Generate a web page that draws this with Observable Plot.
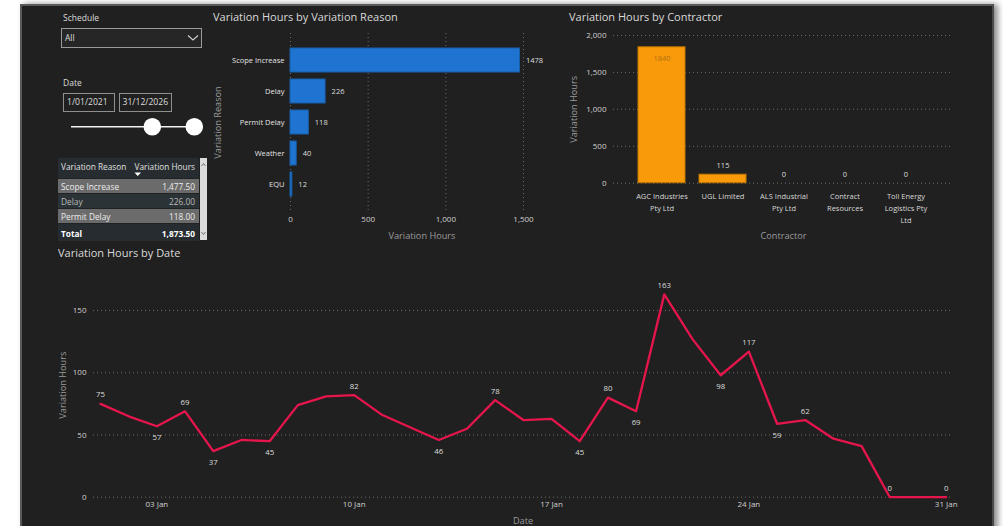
<!DOCTYPE html>
<html>
<head>
<meta charset="utf-8">
<script src="https://cdn.jsdelivr.net/npm/d3@7"></script>
<script src="https://cdn.jsdelivr.net/npm/@observablehq/plot@0.6"></script>
<style>
html,body{margin:0;padding:0;background:#ffffff;}
body{width:1003px;height:526px;overflow:hidden;position:relative;font-family:"Open Sans",sans-serif;}
#panel{position:absolute;left:20px;top:4px;width:970px;height:540px;background:#202020;border-top:2px solid #5a5a5a;border-left:2px solid #5a5a5a;border-right:2px solid #4a4a4a;box-shadow:4px 0 6px rgba(0,0,0,0.45);}
.a{position:absolute;white-space:nowrap;line-height:1;}
.title{font-size:11px;color:#d9d9d9;}
.slabel{font-size:8.5px;color:#dcdcdc;}
.box{position:absolute;box-sizing:border-box;border:1px solid #8f8f8f;}
.chart{position:absolute;}
.chart svg{display:block;overflow:visible;}
#tbl{position:absolute;left:58px;top:158px;width:149px;height:84px;font-size:8.3px;}
.row{position:absolute;left:0;width:141px;box-sizing:border-box;}
.row .c1{position:absolute;left:3px;top:50%;transform:translateY(-50%);white-space:nowrap;}
.row .c2{position:absolute;right:4px;top:50%;transform:translateY(-50%);white-space:nowrap;}
</style>
</head>
<body>
<div id="panel"></div>

<!-- slicers -->
<div class="a slabel" style="left:63px;top:14px;">Schedule</div>
<div class="box" style="left:61px;top:28px;width:141px;height:20px;background:#262626;border-color:#9a9a9a;"></div>
<div class="a slabel" style="left:65px;top:33.5px;">All</div>
<svg style="position:absolute;left:187px;top:34px;" width="12" height="8"><polyline points="1,1.5 6,6 11,1.5" fill="none" stroke="#d0d0d0" stroke-width="1.1"/></svg>
<div class="a slabel" style="left:63px;top:78.5px;">Date</div>
<div class="box" style="left:63px;top:93px;width:52px;height:19px;"></div>
<div class="box" style="left:119px;top:93px;width:53px;height:19px;"></div>
<div class="a slabel" style="left:67px;top:98px;font-size:8.6px;">1/01/2021</div>
<div class="a slabel" style="left:122.5px;top:98px;font-size:8.6px;">31/12/2026</div>
<svg style="position:absolute;left:60px;top:112px;" width="150" height="30">
  <line x1="11" y1="14.7" x2="134" y2="14.7" stroke="#f2f2f2" stroke-width="1.6"/>
  <circle cx="92.3" cy="14.7" r="8.8" fill="#ffffff"/>
  <circle cx="134.3" cy="14.7" r="8.8" fill="#ffffff"/>
</svg>

<div id="tbl"></div>

<!-- titles -->
<div class="a title" style="left:213px;top:10.9px;">Variation Hours by Variation Reason</div>
<div class="a title" style="left:569px;top:10.9px;">Variation Hours by Contractor</div>
<div class="a title" style="left:58px;top:247px;">Variation Hours by Date</div>

<div id="c1" class="chart" style="left:210px;top:20px;"></div>
<div id="c2" class="chart" style="left:555px;top:20px;"></div>
<div id="c3" class="chart" style="left:40px;top:260px;"></div>

<script>
// ---------- data ----------
const reasons = ["Scope Increase", "Delay", "Permit Delay", "Weather", "EQU"];
const reasonHours = [1477.5, 226, 118, 40, 12];

const contractors = ["AGC Industries Pty Ltd", "UGL Limited", "ALS Industrial Pty Ltd", "Contract Resources", "Toll Energy Logistics Pty Ltd"];
const contractorTickLabels = ["AGC Industries\nPty Ltd", "UGL Limited", "ALS Industrial\nPty Ltd", "Contract\nResources", "Toll Energy\nLogistics Pty\nLtd"];
const contractorHours = [1840, 115, 0, 0, 0];

const dayDates = ["2021-01-01","2021-01-02","2021-01-03","2021-01-04","2021-01-05","2021-01-06","2021-01-07","2021-01-08","2021-01-09","2021-01-10",
  "2021-01-11","2021-01-12","2021-01-13","2021-01-14","2021-01-15","2021-01-16","2021-01-17","2021-01-18","2021-01-19","2021-01-20",
  "2021-01-21","2021-01-22","2021-01-23","2021-01-24","2021-01-25","2021-01-26","2021-01-27","2021-01-28","2021-01-29","2021-01-30","2021-01-31"];
const dayHours = [75, 65, 57, 69, 37, 46, 45, 74, 81, 82, 66, 56, 46, 55, 78, 62, 63, 45, 80, 69, 163, 127, 98, 117, 59, 62, 47, 41, 0, 0, 0];
const labelledDates = ["2021-01-01","2021-01-03","2021-01-04","2021-01-05","2021-01-07","2021-01-10","2021-01-13","2021-01-15","2021-01-18",
  "2021-01-19","2021-01-20","2021-01-21","2021-01-23","2021-01-24","2021-01-25","2021-01-26","2021-01-29","2021-01-31"];
const dateTicks = ["2021-01-03","2021-01-10","2021-01-17","2021-01-24","2021-01-31"];

const reasonTicks = [0, 500, 1000, 1500];
const contractorTicks = [0, 500, 1000, 1500, 2000];
const dateValueTicks = [0, 50, 100, 150];

const tableHeaders = ["Variation Reason", "Variation Hours"];
const tableRows = ["Scope Increase", "Delay", "Permit Delay"];
const tableTotalLabel = "Total";

// ---------- styles ----------
const FONT = "Open Sans";
const tickColor = "#cfcfcf";
const titleColor = "#9a9a9a";
const gridStyle = {stroke: "#6a6a6a", strokeOpacity: 1, strokeDasharray: "1,3"};
const xTitle = {frameAnchor: "bottom", lineAnchor: "middle", textAnchor: "middle", fill: titleColor, fontSize: 9.2};
const yTitle = {frameAnchor: "left", lineAnchor: "middle", textAnchor: "middle", rotate: -90, fill: titleColor, fontSize: 9.2};

// ---------- table ----------
{
  const tbl = document.getElementById("tbl");
  const fmt = d3.format(",.2f");
  const rowsSpec = [
    {cls: "hdr", top: 0, h: 20, bg: "#262c2f", c1: tableHeaders[0], c2: tableHeaders[1], color: "#e0e0e0"},
    ...tableRows.map((r, i) => ({top: 20 + i * 15, h: 15, bg: i % 2 === 0 ? "#6b6b6b" : "#2c3336",
      c1: r, c2: fmt(reasonHours[reasons.indexOf(r)]), color: i % 2 === 0 ? "#ececec" : "#b9b9b9"})),
    {top: 65, h: 18, bg: "#262c2f", c1: tableTotalLabel, c2: fmt(d3.sum(reasonHours)), color: "#ffffff", bold: true}
  ];
  for (const r of rowsSpec) {
    const d = document.createElement("div");
    d.className = "row";
    d.style.top = r.top + "px"; d.style.height = r.h + "px"; d.style.background = r.bg; d.style.color = r.color;
    if (r.top > 0) d.style.borderTop = "1px solid #1f2325";
    if (r.bold) d.style.fontWeight = "700";
    const s1 = document.createElement("span"); s1.className = "c1"; s1.textContent = r.c1;
    const s2 = document.createElement("span"); s2.className = "c2"; s2.textContent = r.c2;
    if (r.cls === "hdr") { s1.style.top = "8px"; s2.style.top = "8px"; }
    d.append(s1, s2);
    tbl.append(d);
  }
  const arrow = document.createElementNS("http://www.w3.org/2000/svg", "svg");
  arrow.setAttribute("width", "8"); arrow.setAttribute("height", "5");
  arrow.style.position = "absolute"; arrow.style.left = "76px"; arrow.style.top = "13.5px";
  arrow.innerHTML = '<polygon points="0.5,0.5 7,0.5 3.75,4" fill="#ffffff"/>';
  tbl.append(arrow);
  const sb = document.createElement("div");
  sb.style.cssText = "position:absolute;left:141.5px;top:0;width:7px;height:82px;background:#dcdcdc;";
  sb.innerHTML = '<svg width="7" height="82" style="position:absolute;left:0;top:0"><polyline points="1.5,8 3.5,5.5 5.5,8" fill="none" stroke="#555" stroke-width="0.8"/><polyline points="1.5,74 3.5,76.5 5.5,74" fill="none" stroke="#555" stroke-width="0.8"/></svg>';
  tbl.append(sb);
}

// ---------- chart 1: by reason ----------
{
  const data = reasons.map((r, i) => ({reason: r, hours: reasonHours[i]}));
  const chart = Plot.plot({
    width: 345, height: 230,
    marginLeft: 80, marginRight: 32, marginTop: 13, marginBottom: 39,
    style: {background: "transparent", fontFamily: FONT, overflow: "visible"},
    x: {domain: [0, 1500]},
    y: {domain: reasons, paddingInner: 0.22, paddingOuter: 0.41},
    marks: [
      Plot.gridX(reasonTicks, gridStyle),
      Plot.axisX(reasonTicks, {tickSize: 0, tickPadding: 5, tickFormat: d3.format(","), fontSize: 8, color: tickColor, label: null}),
      Plot.axisY({tickSize: 0, tickPadding: 6, fontSize: 7.5, color: "#e2e2e2", label: null}),
      Plot.barX(data, {x: "hours", y: "reason", fill: "#1f74d1", stroke: "#185ea9", strokeWidth: 1}),
      Plot.text(data, {x: "hours", y: "reason", text: d => d3.format(".0f")(d.hours), textAnchor: "start", dx: 6, fill: "#dedede", fontSize: 7.5}),
      Plot.text(["Variation Hours"], {...xTitle, text: d => d, dy: 25, dx: 15}),
      Plot.text(["Variation Reason"], {...yTitle, text: d => d, dx: -72})
    ]
  });
  document.getElementById("c1").append(chart);
}

// ---------- chart 2: by contractor ----------
{
  const data = contractors.map((c, i) => ({contractor: c, hours: contractorHours[i]}));
  const yMax = d3.max(contractorTicks);
  const inside = data.filter(d => d.hours / yMax > 0.9);
  const outside = data.filter(d => d.hours / yMax <= 0.9);
  const chart = Plot.plot({
    width: 410, height: 230,
    marginLeft: 58, marginRight: 12, marginTop: 15, marginBottom: 67.3,
    style: {background: "transparent", fontFamily: FONT, overflow: "visible"},
    x: {domain: contractors, paddingInner: 0.23, paddingOuter: 0.388},
    y: {domain: [0, yMax]},
    marks: [
      Plot.gridY(contractorTicks, gridStyle),
      Plot.axisY(contractorTicks, {tickSize: 0, tickPadding: 7, tickFormat: d3.format(","), fontSize: 8, color: tickColor, label: null}),
      Plot.axisX({tickSize: 0, tickPadding: 7.5, tickFormat: d => contractorTickLabels[contractors.indexOf(d)], fontSize: 7.5, lineHeight: 1.6, color: "#d8d8d8", label: null}),
      Plot.barY(data, {x: "contractor", y: "hours", fill: "#f99a0b", stroke: "#c47700", strokeWidth: 1}),
      Plot.text(inside, {x: "contractor", y: "hours", text: d => d3.format(".0f")(d.hours), dy: 11, fill: "#b0700f", fontSize: 7.5}),
      Plot.text(outside, {x: "contractor", y: "hours", text: d => d3.format(".0f")(d.hours), dy: -9, fill: "#dedede", fontSize: 7.5}),
      Plot.text(["Contractor"], {...xTitle, text: d => d, dy: 52.6}),
      Plot.text(["Variation Hours"], {...yTitle, text: d => d, dx: -39})
    ]
  });
  document.getElementById("c2").append(chart);
}

// ---------- chart 3: by date ----------
{
  const data = dayDates.map((d, i) => ({date: new Date(d), value: dayHours[i]}));
  const labels = data.map((r, i) => ({...r, key: dayDates[i],
      below: r.value > 0 && i > 0 && r.value < data[i - 1].value && (i === data.length - 1 || r.value <= data[i + 1].value)}))
    .filter(r => labelledDates.includes(r.key));
  const chart = Plot.plot({
    width: 925, height: 266,
    marginLeft: 53, marginRight: 13, marginTop: 12.7, marginBottom: 29.3,
    style: {background: "transparent", fontFamily: FONT, overflow: "visible"},
    x: {type: "utc", domain: [data[0].date, data[data.length - 1].date], insetLeft: 7, insetRight: 6.3},
    y: {domain: [0, 180]},
    marks: [
      Plot.gridY(dateValueTicks, gridStyle),
      Plot.axisY(dateValueTicks, {tickSize: 0, tickPadding: 7, fontSize: 8, color: tickColor, label: null}),
      Plot.axisX(dateTicks.map(d => new Date(d)), {tickSize: 0, tickPadding: 4, tickFormat: d3.utcFormat("%d %b"), fontSize: 8, color: tickColor, label: null}),
      Plot.lineY(data, {x: "date", y: "value", stroke: "#e6154c", strokeWidth: 2.3}),
      Plot.text(labels.filter(d => !d.below), {x: "date", y: "value", text: d => String(d.value), dy: -9, fill: "#dedede", fontSize: 7.8}),
      Plot.text(labels.filter(d => d.below), {x: "date", y: "value", text: d => String(d.value), dy: 11.3, fill: "#dedede", fontSize: 7.8}),
      Plot.text(["Date"], {...xTitle, text: d => d, dy: 24}),
      Plot.text(["Variation Hours"], {...yTitle, text: d => d, dx: -30})
    ]
  });
  document.getElementById("c3").append(chart);
}
</script>
</body>
</html>
